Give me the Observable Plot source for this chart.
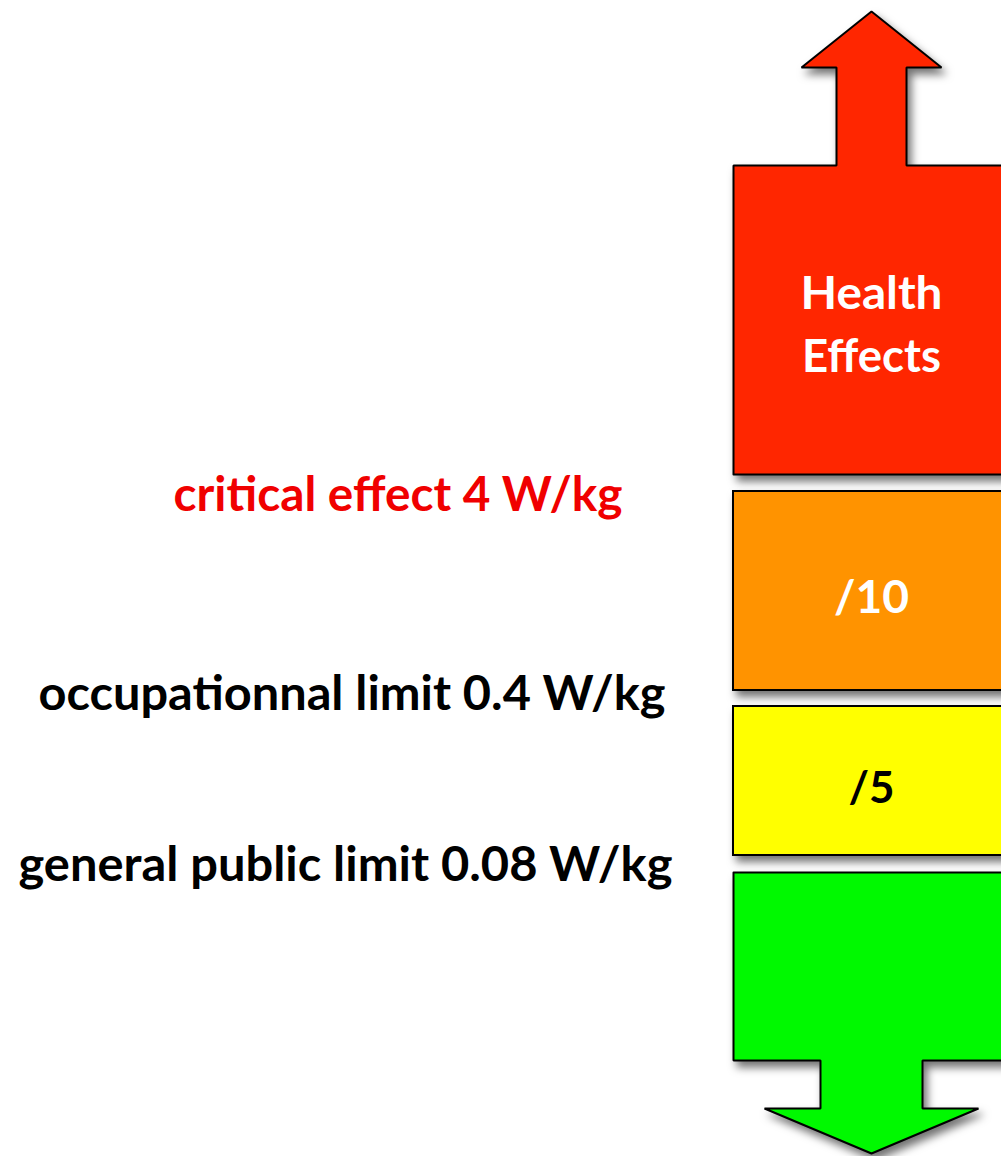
<!DOCTYPE html>
<html>
<head>
<meta charset="utf-8">
<script src="https://cdn.jsdelivr.net/npm/d3@7"></script>
<script src="https://cdn.jsdelivr.net/npm/@observablehq/plot@0.6"></script>
<style>
  html, body { margin: 0; padding: 0; background: #fff; overflow: hidden; }
  #chart svg { overflow: hidden; display: block; }
</style>
</head>
<body>
<div id="chart"></div>
<script>
// ---- Diagram data (vertical positions on a 0..1156 "exposure" scale, top = high) ----
const bandNames   = ["Health Effects", "/10", "/5", "safe"];
const bandColors  = ["#ff2600", "#ff9300", "#ffff00", "#00f900"];
const bandTop     = [165, 491, 706, 872];
const bandBottom  = [474, 690, 855, 1060];
const columnLeft  = 733;
const columnRight = 1009;
const columnMid   = 871;

// arrows: [up (red), down (green)]
const arrowTip      = [11, 1153];
const arrowHeadBase = [67, 1108];
const shaftHalf     = [35, 51];
const headHalf      = [70, 107];

// box labels
const boxText   = ["Health", "Effects", "/10", "/5"];
const boxTextY  = [294, 357, 598, 789];
const boxColor  = ["white", "white", "white", "black"];
const boxSize   = [45, 45, 46, 43];
const boxWidth  = [142, 139, 75, 46];

// side labels
const sideText  = ["critical effect 4 W/kg", "occupationnal limit 0.4 W/kg", "general public limit 0.08 W/kg"];
const sideX     = [173, 38, 18];
const sideY     = [495, 694, 865];
const sideColor = ["#f00000", "black", "black"];
const sideWidth = [449, 627, 654];

// ---- Build outline polygons ----
const upArrow = [
  [columnLeft, bandBottom[0]], [columnLeft, bandTop[0]],
  [columnMid - shaftHalf[0], bandTop[0]], [columnMid - shaftHalf[0], arrowHeadBase[0]],
  [columnMid - headHalf[0], arrowHeadBase[0]], [columnMid, arrowTip[0]],
  [columnMid + headHalf[0], arrowHeadBase[0]], [columnMid + shaftHalf[0], arrowHeadBase[0]],
  [columnMid + shaftHalf[0], bandTop[0]], [columnRight, bandTop[0]],
  [columnRight, bandBottom[0]], [columnLeft, bandBottom[0]]
].map(([x, y]) => ({x, y}));

const downArrow = [
  [columnLeft, bandTop[3]], [columnRight, bandTop[3]],
  [columnRight, bandBottom[3]], [columnMid + shaftHalf[1], bandBottom[3]],
  [columnMid + shaftHalf[1], arrowHeadBase[1]], [columnMid + headHalf[1], arrowHeadBase[1]],
  [columnMid, arrowTip[1]], [columnMid - headHalf[1], arrowHeadBase[1]],
  [columnMid - shaftHalf[1], arrowHeadBase[1]], [columnMid - shaftHalf[1], bandBottom[3]],
  [columnLeft, bandBottom[3]], [columnLeft, bandTop[3]]
].map(([x, y]) => ({x, y}));

const midBands = [1, 2].map(i => ({
  name: bandNames[i], color: bandColors[i], y1: bandTop[i], y2: bandBottom[i],
  x1: columnLeft, x2: columnRight
}));

const boxLabels = boxText.map((t, i) => ({text: t, x: columnMid, y: boxTextY[i], color: boxColor[i], size: boxSize[i]}));
const sideLabels = sideText.map((t, i) => ({text: t, x: sideX[i], y: sideY[i], color: sideColor[i]}));

const font = "Lato, 'Open Sans', sans-serif";

const chart = Plot.plot({
  width: 1001,
  height: 1156,
  margin: 0,
  style: {background: "white", fontFamily: font},
  x: {type: "linear", domain: [0, 1001], range: [0, 1001], axis: null},
  y: {type: "linear", domain: [0, 1156], range: [0, 1156], axis: null},
  marks: [
    Plot.line(upArrow, {x: "x", y: "y", fill: bandColors[0], stroke: "black", strokeWidth: 2, strokeLinejoin: "miter", curve: "linear"}),
    Plot.rect(midBands, {x1: "x1", x2: "x2", y1: "y1", y2: "y2", fill: "color", stroke: "black", strokeWidth: 2}),
    Plot.line(downArrow, {x: "x", y: "y", fill: bandColors[3], stroke: "black", strokeWidth: 2, strokeLinejoin: "miter", curve: "linear"}),
    Plot.text(sideLabels, {x: "x", y: "y", text: "text", fill: "color", textAnchor: "start", fontSize: 47, fontWeight: "bold", fontFamily: font}),
    Plot.text(boxLabels, {x: "x", y: "y", text: "text", fill: "color", textAnchor: "middle", fontSize: "size", fontWeight: "bold", fontFamily: font})
  ],
  color: {type: "identity"}
});

// drop shadows on shapes
d3.select(chart).selectAll("g[aria-label='line'], g[aria-label='rect']")
  .style("filter", "drop-shadow(4px 6px 4px rgba(0,0,0,0.55))");

// fit text widths to the reference
const texts = d3.select(chart).selectAll("g[aria-label='text']").nodes();
d3.select(texts[0]).selectAll("text").each(function(d, i) {
  this.setAttribute("textLength", sideWidth[i]);
  this.setAttribute("lengthAdjust", "spacingAndGlyphs");
});
d3.select(texts[1]).selectAll("text").each(function(d, i) {
  this.setAttribute("textLength", boxWidth[i]);
  this.setAttribute("lengthAdjust", "spacingAndGlyphs");
});

document.getElementById("chart").appendChild(chart);
</script>
</body>
</html>
